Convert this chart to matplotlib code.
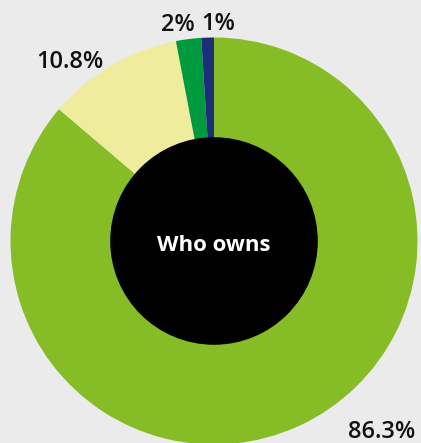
import numpy as np
import matplotlib
matplotlib.use("Agg")
import matplotlib.pyplot as plt
from matplotlib.patches import Circle

plt.rcParams['font.family'] = ['Open Sans', 'DejaVu Sans']

# Share of ownership
categories = ["Majority", "Minority", "Other", "Unknown"]
values = [86.3, 10.8, 2, 1]
labels = ["86.3%", "10.8%", "2%", "1%"]
colors = ["#86bc25", "#f0ec9e", "#009a3e", "#1b2f78"]
center_text = "Who owns"

# label placement: (angle in degrees, distance in pie radii)
label_pos = [(-48.7, 1.25), (128.8, 1.13), (99.4, 1.075), (88.9, 1.065)]

W, H = 421, 443
fig = plt.figure(figsize=(W / 100, H / 100), dpi=100)
bg = "#ebebeb"
fig.patch.set_facecolor(bg)
ax = fig.add_axes([0, 0, 1, 1])
ax.set_facecolor(bg)
ax.axis("off")

ax.pie(values, colors=colors, startangle=90, counterclock=False,
       radius=1.0, wedgeprops=dict(linewidth=0))
ax.add_patch(Circle((0, 0), 0.51, facecolor="black", edgecolor="none", zorder=3))
ax.text(0, -0.02, center_text, color="white", fontsize=16, fontweight="bold",
        ha="center", va="center", zorder=4)

for lab, (ang, dist) in zip(labels, label_pos):
    a = np.deg2rad(ang)
    ax.text(dist * np.cos(a), dist * np.sin(a), lab, fontsize=17,
            fontweight="semibold", color="#111111", ha="center",
            va="center", zorder=4)

# pie centre sits at (214, 241) px from top-left with radius 203.5 px
cx, cy, r = 214, 241, 203.5
ax.set_xlim(-cx / r, (W - cx) / r)
ax.set_ylim(-(H - cy) / r, cy / r)
ax.set_aspect("auto")

fig.savefig("out.png", dpi=100, facecolor=bg)
